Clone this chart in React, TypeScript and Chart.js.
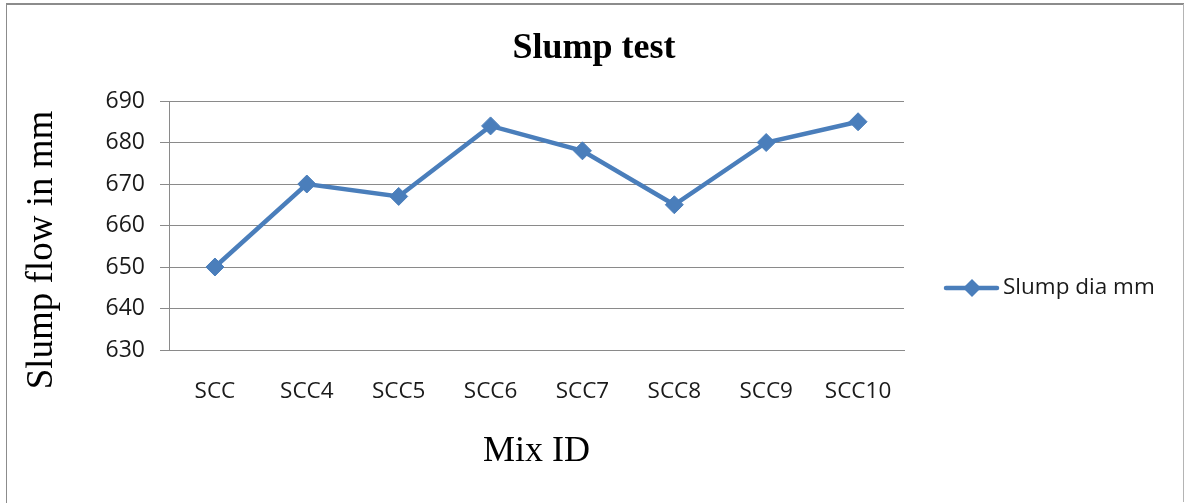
import React, { useEffect, useRef } from "react";
import { Chart, registerables } from "chart.js";

Chart.register(...registerables);

const mixIds = ["SCC", "SCC4", "SCC5", "SCC6", "SCC7", "SCC8", "SCC9", "SCC10"];
const slumpDia = [650, 670, 667, 684, 678, 665, 680, 685];
const seriesName = "Slump dia mm";
const chartTitle = "Slump test";
const xTitle = "Mix ID";
const yTitle = "Slump flow in mm";
const yMin = 630;
const yMax = 690;
const yStep = 10;

const BLUE = "#4a7ebb";
const GRID = "#8a8a8a";
const TICK_FONT = "'Open Sans', sans-serif";
const SERIF = "'Liberation Serif', 'Times New Roman', serif";

// Frame, title, axis titles and legend drawn around the plot area
const decorations = {
  id: "decorations",
  afterDraw(chart: any) {
    const { ctx, chartArea } = chart;
    const W = chart.width;
    const H = chart.height;
    ctx.save();

    // outer frame
    ctx.strokeStyle = "#8c8c8c";
    ctx.lineWidth = 1;
    ctx.beginPath();
    ctx.moveTo(6.5, 503);
    ctx.lineTo(6.5, 4.5);
    ctx.stroke();
    ctx.lineWidth = 2;
    ctx.beginPath();
    ctx.moveTo(6, 4);
    ctx.lineTo(W - 1, 4);
    ctx.stroke();
    ctx.strokeStyle = "#b4b4b4";
    ctx.lineWidth = 1;
    ctx.beginPath();
    ctx.moveTo(W - 1.5, 4);
    ctx.lineTo(W - 1.5, H - 1);
    ctx.stroke();

    // chart title
    ctx.fillStyle = "#000";
    ctx.textAlign = "center";
    ctx.textBaseline = "alphabetic";
    ctx.font = `bold 36px ${SERIF}`;
    ctx.fillText(chartTitle, 594, 58);

    // x axis title
    ctx.font = `36px ${SERIF}`;
    ctx.fillText(xTitle, (chartArea.left + chartArea.right) / 2, 461);

    // y axis title
    ctx.save();
    ctx.translate(52, 250);
    ctx.rotate(-Math.PI / 2);
    ctx.font = `37px ${SERIF}`;
    ctx.fillText(yTitle, 0, 0);
    ctx.restore();

    // legend: line with diamond marker and series label
    const ds = chart.data.datasets[0];
    const ly = 288;
    ctx.strokeStyle = ds.borderColor;
    ctx.lineWidth = ds.borderWidth;
    ctx.lineCap = "round";
    ctx.beginPath();
    ctx.moveTo(946, ly);
    ctx.lineTo(997, ly);
    ctx.stroke();
    ctx.fillStyle = ds.pointBackgroundColor;
    const r = ds.pointRadius;
    ctx.beginPath();
    ctx.moveTo(972, ly - r);
    ctx.lineTo(972 + r, ly);
    ctx.lineTo(972, ly + r);
    ctx.lineTo(972 - r, ly);
    ctx.closePath();
    ctx.fill();
    ctx.fillStyle = "#1a1a1a";
    ctx.textAlign = "left";
    ctx.textBaseline = "middle";
    ctx.font = `22.5px ${TICK_FONT}`;
    ctx.fillText(ds.label, 1003, ly);

    ctx.restore();
  },
};

export default function App() {
  const canvasRef = useRef<HTMLCanvasElement | null>(null);

  useEffect(() => {
    document.body.style.margin = "0";
    const canvas = canvasRef.current;
    if (!canvas) return;
    const chart = new Chart(canvas, {
      type: "line",
      data: {
        labels: mixIds,
        datasets: [
          {
            label: seriesName,
            data: slumpDia,
            borderColor: BLUE,
            backgroundColor: BLUE,
            borderWidth: 4.5,
            pointStyle: "rectRot",
            pointRadius: 9,
            pointBackgroundColor: BLUE,
            pointBorderColor: BLUE,
            pointBorderWidth: 1,
            tension: 0,
          } as any,
        ],
      },
      options: {
        responsive: false,
        animation: false,
        devicePixelRatio: 1,
        layout: { padding: { top: 101, left: 0, right: 281, bottom: 0 } },
        plugins: {
          legend: { display: false },
          title: { display: false },
          tooltip: { enabled: false },
        },
        scales: {
          x: {
            type: "category",
            offset: true,
            grid: { display: false, drawTicks: false },
            border: { display: true, color: GRID, width: 1 },
            ticks: {
              padding: 28,
              color: "#1a1a1a",
              font: { family: TICK_FONT, size: 22.5 },
              maxRotation: 0,
              autoSkip: false,
            },
            afterFit(scale: any) {
              scale.height = 153;
            },
          },
          y: {
            min: yMin,
            max: yMax,
            ticks: {
              stepSize: yStep,
              padding: 15,
              color: "#1a1a1a",
              font: { family: TICK_FONT, size: 23 },
            },
            grid: { color: GRID, lineWidth: 1, tickLength: 9 },
            border: { display: true, color: GRID, width: 1 },
            afterFit(scale: any) {
              scale.width = 169;
            },
          },
        },
      },
      plugins: [decorations],
    });
    return () => chart.destroy();
  }, []);

  return <canvas ref={canvasRef} width={1185} height={503} style={{ display: "block" }} />;
}
